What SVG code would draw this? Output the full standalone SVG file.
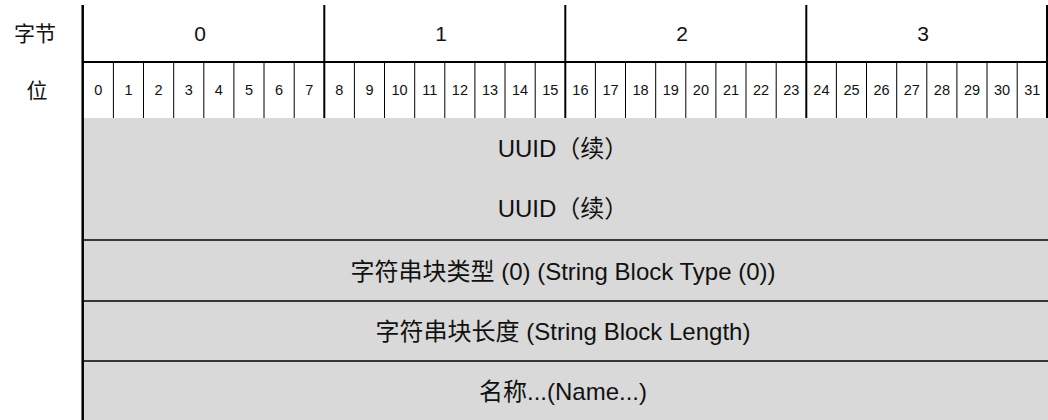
<svg xmlns="http://www.w3.org/2000/svg" width="1048" height="420" viewBox="0 0 1048 420">
<style>
.t{font-family:"Liberation Sans","Noto Sans CJK SC",sans-serif;fill:#111;text-anchor:middle}
.lab{font-size:21px}
.byte{font-size:21px}
.bit{font-size:14.5px}
.row{font-size:24px}
.thin{stroke:#000;stroke-width:1}
.thick{stroke:#000;stroke-width:2}
.sep{stroke:#000;stroke-width:1.5}
</style>
<rect x="0" y="0" width="1048" height="420" fill="#fff"/>
<g id="labels">
<text class="t lab" x="35" y="41">字节</text>
<text class="t lab" x="37" y="98">位</text>
</g>
<g id="fields">
<rect x="83" y="118" width="965" height="302" fill="#d9d9d9"/>
<g id="uuid1"><text class="t row" x="563" y="157">UUID（续）</text></g>
<g id="uuid2"><text class="t row" x="563" y="217">UUID（续）</text></g>
<g id="type"><text class="t row" x="563" y="280">字符串块类型 (0) (String Block Type (0))</text></g>
<g id="length"><text class="t row" x="563" y="340">字符串块长度 (String Block Length)</text></g>
<g id="name"><text class="t row" x="563" y="400">名称...(Name...)</text></g>
</g>
<g id="bytes">
<text class="t byte" x="200" y="41">0</text>
<text class="t byte" x="441" y="41">1</text>
<text class="t byte" x="682" y="41">2</text>
<text class="t byte" x="923" y="41">3</text>
</g>
<g id="bits">
<text class="t bit" x="98.4" y="95">0</text>
<text class="t bit" x="128.5" y="95">1</text>
<text class="t bit" x="158.6" y="95">2</text>
<text class="t bit" x="188.8" y="95">3</text>
<text class="t bit" x="218.9" y="95">4</text>
<text class="t bit" x="249.0" y="95">5</text>
<text class="t bit" x="279.1" y="95">6</text>
<text class="t bit" x="309.3" y="95">7</text>
<text class="t bit" x="339.4" y="95">8</text>
<text class="t bit" x="369.5" y="95">9</text>
<text class="t bit" x="399.6" y="95">10</text>
<text class="t bit" x="429.8" y="95">11</text>
<text class="t bit" x="459.9" y="95">12</text>
<text class="t bit" x="490.0" y="95">13</text>
<text class="t bit" x="520.1" y="95">14</text>
<text class="t bit" x="550.3" y="95">15</text>
<text class="t bit" x="580.4" y="95">16</text>
<text class="t bit" x="610.5" y="95">17</text>
<text class="t bit" x="640.6" y="95">18</text>
<text class="t bit" x="670.8" y="95">19</text>
<text class="t bit" x="700.9" y="95">20</text>
<text class="t bit" x="731.0" y="95">21</text>
<text class="t bit" x="761.1" y="95">22</text>
<text class="t bit" x="791.3" y="95">23</text>
<text class="t bit" x="821.4" y="95">24</text>
<text class="t bit" x="851.5" y="95">25</text>
<text class="t bit" x="881.6" y="95">26</text>
<text class="t bit" x="911.8" y="95">27</text>
<text class="t bit" x="941.9" y="95">28</text>
<text class="t bit" x="972.0" y="95">29</text>
<text class="t bit" x="1002.1" y="95">30</text>
<text class="t bit" x="1032.3" y="95">31</text>
</g>
<g id="connectors">
<line class="thin" x1="113.4" y1="62" x2="113.4" y2="118"/>
<line class="thin" x1="143.5" y1="62" x2="143.5" y2="118"/>
<line class="thin" x1="173.7" y1="62" x2="173.7" y2="118"/>
<line class="thin" x1="203.8" y1="62" x2="203.8" y2="118"/>
<line class="thin" x1="233.9" y1="62" x2="233.9" y2="118"/>
<line class="thin" x1="264.0" y1="62" x2="264.0" y2="118"/>
<line class="thin" x1="294.2" y1="62" x2="294.2" y2="118"/>
<line class="thin" x1="354.4" y1="62" x2="354.4" y2="118"/>
<line class="thin" x1="384.5" y1="62" x2="384.5" y2="118"/>
<line class="thin" x1="414.7" y1="62" x2="414.7" y2="118"/>
<line class="thin" x1="444.8" y1="62" x2="444.8" y2="118"/>
<line class="thin" x1="474.9" y1="62" x2="474.9" y2="118"/>
<line class="thin" x1="505.0" y1="62" x2="505.0" y2="118"/>
<line class="thin" x1="535.2" y1="62" x2="535.2" y2="118"/>
<line class="thin" x1="595.4" y1="62" x2="595.4" y2="118"/>
<line class="thin" x1="625.5" y1="62" x2="625.5" y2="118"/>
<line class="thin" x1="655.7" y1="62" x2="655.7" y2="118"/>
<line class="thin" x1="685.8" y1="62" x2="685.8" y2="118"/>
<line class="thin" x1="715.9" y1="62" x2="715.9" y2="118"/>
<line class="thin" x1="746.0" y1="62" x2="746.0" y2="118"/>
<line class="thin" x1="776.2" y1="62" x2="776.2" y2="118"/>
<line class="thin" x1="836.4" y1="62" x2="836.4" y2="118"/>
<line class="thin" x1="866.5" y1="62" x2="866.5" y2="118"/>
<line class="thin" x1="896.7" y1="62" x2="896.7" y2="118"/>
<line class="thin" x1="926.8" y1="62" x2="926.8" y2="118"/>
<line class="thin" x1="956.9" y1="62" x2="956.9" y2="118"/>
<line class="thin" x1="987.0" y1="62" x2="987.0" y2="118"/>
<line class="thin" x1="1017.2" y1="62" x2="1017.2" y2="118"/>
<line class="thick" x1="324.3" y1="5" x2="324.3" y2="118"/>
<line class="thick" x1="565.3" y1="5" x2="565.3" y2="118"/>
<line class="thick" x1="806.3" y1="5" x2="806.3" y2="118"/>
<line class="thick" x1="1047" y1="5" x2="1047" y2="118"/>
<line class="thick" x1="83" y1="62" x2="1048" y2="62"/>
<line class="sep" x1="83" y1="240" x2="1048" y2="240"/>
<line class="sep" x1="83" y1="301" x2="1048" y2="301"/>
<line class="sep" x1="83" y1="361" x2="1048" y2="361"/>
<line stroke="#000" stroke-width="2.5" x1="82.7" y1="5" x2="82.7" y2="420"/>
</g>
</svg>
